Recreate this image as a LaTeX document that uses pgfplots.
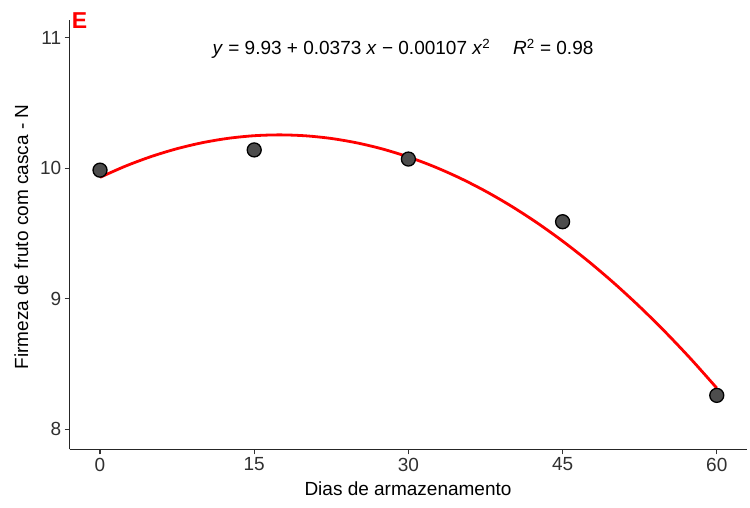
\documentclass[border=0pt]{standalone}
\usepackage{pgfplots}
\pgfplotsset{compat=1.18}
\usepackage{fontspec}
\setmainfont{Liberation Sans}
\definecolor{ptfill}{HTML}{4D4D4D}
\definecolor{tickgray}{HTML}{303030}
\definecolor{fitred}{HTML}{FF0000}
\begin{document}
\begin{tikzpicture}[x=1pt,y=1pt]
\path[use as bounding box] (0,0) rectangle (750,507);
\begin{axis}[
  at={(69.7pt,57.7pt)}, anchor=south west,
  scale only axis, width=677.6pt, height=429.3pt,
  xmin=-2.95, xmax=62.97, ymin=7.847, ymax=11.135,
  axis x line*=bottom, axis y line*=left,
  axis line style={-, line width=1.4pt, black!85},
  xtick={0,15,30,45,60}, ytick={8,9,10,11},
  tick align=outside, major tick length=5pt,
  tick style={line width=1.2pt, black!80},
  tick label style={font=\fontsize{19}{22}\selectfont, text=tickgray},
  /pgf/number format/assume math mode=true,
  clip=false,
]
% observed firmness
\addplot[only marks, mark=*, mark size=7pt,
  mark options={fill=ptfill, draw=black, line width=1.3pt}]
  coordinates {(0,9.985) (15,10.14) (30,10.07) (45,9.59) (60,8.26)};
% fitted quadratic
\addplot[fitred, line width=2.8pt, smooth] coordinates {
  (0,9.93) (2.5,10.0166) (5,10.0898) (7.5,10.1496) (10,10.196)
  (12.5,10.2291) (15,10.2488) (17.5,10.2551) (20,10.248) (22.5,10.2276)
  (25,10.1938) (27.5,10.1466) (30,10.086) (32.5,10.0121) (35,9.9248)
  (37.5,9.8241) (40,9.71) (42.5,9.5826) (45,9.4418) (47.5,9.2876)
  (50,9.12) (52.5,8.9391) (55,8.7448) (57.5,8.5371) (60,8.316)};
\end{axis}
\node[anchor=base west, inner sep=0, text=fitred,
  font=\bfseries\fontsize{23}{23}\selectfont] at (71.7,478.7) {E};
\node[anchor=base, inner sep=0, font=\fontsize{19}{22}\selectfont]
  at (403,452) {\textit{y} = 9.93 + 0.0373 \textit{x} − 0.00107 \textit{x}\textsuperscript{2}\hspace{1.2em}\textit{R}\textsuperscript{2} = 0.98};
\node[anchor=base, inner sep=0, font=\fontsize{19}{22}\selectfont]
  at (408,12) {Dias de armazenamento};
\node[anchor=base, inner sep=0, rotate=90, font=\fontsize{19}{22}\selectfont]
  at (28,270) {Firmeza de fruto com casca - N};
\end{tikzpicture}
\end{document}
